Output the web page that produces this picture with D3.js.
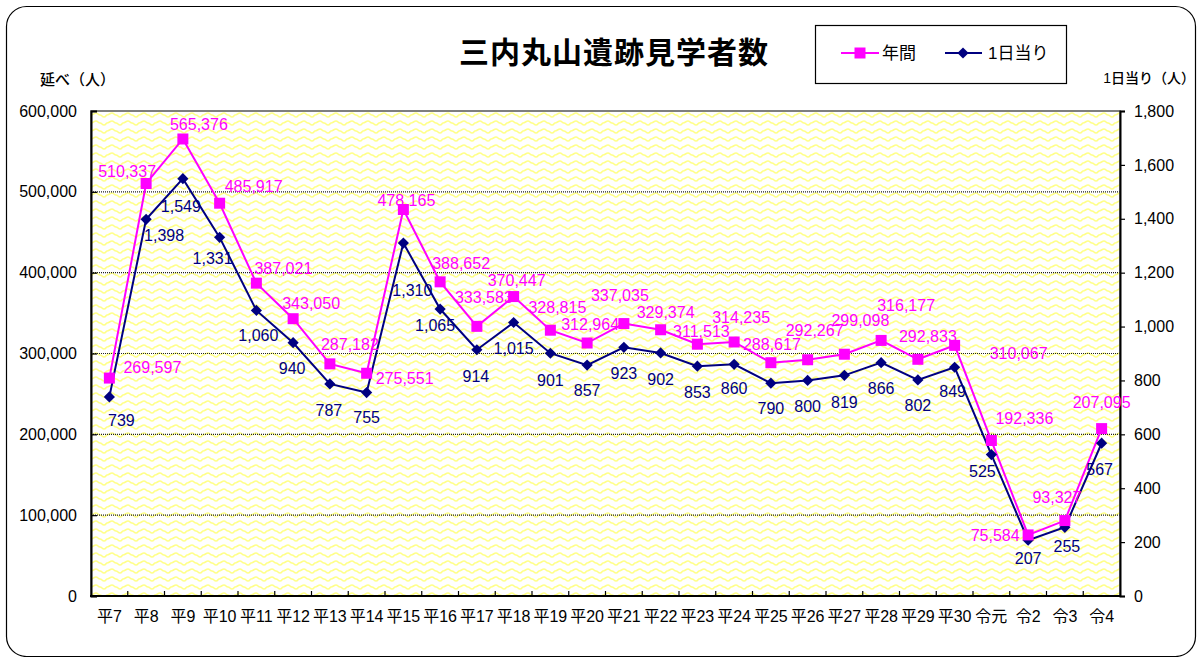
<!DOCTYPE html>
<html lang="ja">
<head>
<meta charset="utf-8">
<script src="https://cdn.jsdelivr.net/npm/d3@7"></script>
<style>
  html, body { margin: 0; padding: 0; background: #fff; }
  svg { display: block; }
  text { font-family: "Liberation Sans", "Noto Sans CJK JP", sans-serif; }
</style>
</head>
<body>
<svg id="chart" width="1199" height="657"></svg>
<script>
// Fiscal years (Heisei 7 – Reiwa 4)
const categories = ["平7","平8","平9","平10","平11","平12","平13","平14","平15","平16",
  "平17","平18","平19","平20","平21","平22","平23","平24","平25","平26",
  "平27","平28","平29","平30","令元","令2","令3","令4"];

// Annual visitors (left axis)
const annualVisitors = [269597, 510337, 565376, 485917, 387021, 343050, 287182, 275551,
  478165, 388652, 333583, 370447, 328815, 312964, 337035, 329374, 311513, 314235,
  288617, 292267, 299098, 316177, 292833, 310067, 192336, 75584, 93327, 207095];

// Visitors per day (right axis)
const dailyVisitors = [739, 1398, 1549, 1331, 1060, 940, 787, 755, 1310, 1065, 914, 1015,
  901, 857, 923, 902, 853, 860, 790, 800, 819, 866, 802, 849, 525, 207, 255, 567];

const leftTicks = [0, 100000, 200000, 300000, 400000, 500000, 600000];
const rightTicks = [0, 200, 400, 600, 800, 1000, 1200, 1400, 1600, 1800];

// Label placement relative to each marker, [dx, dy] in px
const annualLabelOffset = [[43,-11],[-19,-12],[16,-15],[34,-17],[27,-15],[18,-15],[20,-19],[38,5],
  [3,-9],[21,-18],[7,-29],[3,-16],[7,-23],[3,-19],[-4,-28],[5,-17],[4,-13],[7,-25],
  [1,-18],[7,-29],[16,-34],[25,-35],[10,-23],[64,8],[33,-22],[-33,0],[-8,-23],[0,-26]];
const dailyLabelOffset = [[12,24],[18,16],[-2,28],[-7,21],[2,25],[-1,26],[-1,26],[0,25],
  [9,47],[-5,16],[-1,27],[0,26],[0,27],[0,25],[0,26],[0,26],[0,26],[0,24],
  [0,25],[0,26],[0,27],[0,26],[0,25],[-2,24],[-9,17],[0,18],[2,19],[-2,26]];

const MAGENTA = "#ff00ff";
const NAVY = "#000080";

const svg = d3.select("#chart");
const plot = { left: 91, right: 1120, top: 111, bottom: 596 };

// outer rounded frame
svg.append("rect")
  .attr("x", 6.5).attr("y", 6.5).attr("width", 1189).attr("height", 650)
  .attr("rx", 20).attr("ry", 20)
  .attr("fill", "#fff").attr("stroke", "#000").attr("stroke-width", 1.2);

// wavy yellow fill for the plot area
const defs = svg.append("defs");
const pat = defs.append("pattern")
  .attr("id", "wave").attr("patternUnits", "userSpaceOnUse")
  .attr("x", plot.left).attr("y", plot.top)
  .attr("width", 16).attr("height", 8);
pat.append("rect").attr("width", 16).attr("height", 8).attr("fill", "#fff");
pat.append("path")
  .attr("d", "M0,4 C2,4 3,2 5,2 C7,2 7,4 9,4 C11,4 11,6 13,6 C15,6 15,4 16,4")
  .attr("fill", "none").attr("stroke", "#ffff88").attr("stroke-width", 1.6);

const x = d3.scaleBand().domain(categories).range([plot.left, plot.right]).padding(0);
const yL = d3.scaleLinear().domain([0, 600000]).range([plot.bottom, plot.top]);
const yR = d3.scaleLinear().domain([0, 1800]).range([plot.bottom, plot.top]);
const cx = d => x(d) + x.bandwidth() / 2;

svg.append("rect")
  .attr("x", plot.left).attr("y", plot.top)
  .attr("width", plot.right - plot.left).attr("height", plot.bottom - plot.top)
  .attr("fill", "url(#wave)");

// dotted gridlines
svg.append("g").selectAll("line")
  .data(leftTicks.filter(t => t > 0 && t < 600000))
  .join("line")
  .attr("x1", plot.left).attr("x2", plot.right)
  .attr("y1", d => yL(d)).attr("y2", d => yL(d))
  .attr("stroke", "#222").attr("stroke-width", 1.2).attr("stroke-dasharray", "1,1");

// plot frame
svg.append("rect")
  .attr("x", plot.left).attr("y", plot.top)
  .attr("width", plot.right - plot.left).attr("height", plot.bottom - plot.top)
  .attr("fill", "none").attr("stroke", "#555").attr("stroke-width", 1.5);

// left axis
const axL = svg.append("g").attr("transform", `translate(${plot.left},0)`)
  .call(d3.axisLeft(yL).tickValues(leftTicks).tickFormat(d3.format(",")).tickSize(-6).tickPadding(14));
axL.select(".domain").attr("stroke", "#000").attr("stroke-width", 2);
axL.selectAll(".tick line").attr("stroke", "#000").attr("stroke-width", 1.2);
axL.selectAll(".tick text").attr("font-size", 16).attr("fill", "#000")
  .attr("font-family", "'Liberation Sans', sans-serif");

// right axis
const axR = svg.append("g").attr("transform", `translate(${plot.right},0)`)
  .call(d3.axisRight(yR).tickValues(rightTicks).tickFormat(d3.format(",")).tickSize(5).tickPadding(9));
axR.select(".domain").attr("stroke", "#000").attr("stroke-width", 2);
axR.selectAll(".tick line").attr("stroke", "#000").attr("stroke-width", 1.2);
axR.selectAll(".tick text").attr("font-size", 16).attr("fill", "#000")
  .attr("font-family", "'Liberation Sans', sans-serif");

// bottom axis: ticks at category boundaries, pointing inward
svg.append("line")
  .attr("x1", plot.left - 1).attr("x2", plot.right + 1)
  .attr("y1", plot.bottom).attr("y2", plot.bottom)
  .attr("stroke", "#000").attr("stroke-width", 2);
svg.append("g").selectAll("line")
  .data(categories.slice(1))
  .join("line")
  .attr("x1", d => x(d)).attr("x2", d => x(d))
  .attr("y1", plot.bottom).attr("y2", plot.bottom - 5)
  .attr("stroke", "#000").attr("stroke-width", 1.2);
svg.append("g").selectAll("text")
  .data(categories)
  .join("text")
  .attr("x", d => cx(d)).attr("y", 616).attr("dy", "0.35em")
  .attr("text-anchor", "middle").attr("font-size", 16).attr("fill", "#000")
  .text(d => d);

// series lines
const annualPts = categories.map((c, i) => [cx(c), yL(annualVisitors[i])]);
const dailyPts = categories.map((c, i) => [cx(c), yR(dailyVisitors[i])]);
const line = d3.line();

svg.append("path").attr("d", line(annualPts))
  .attr("fill", "none").attr("stroke", MAGENTA).attr("stroke-width", 2);
svg.append("path").attr("d", line(dailyPts))
  .attr("fill", "none").attr("stroke", NAVY).attr("stroke-width", 2);

const square = d3.symbol().type(d3.symbolSquare).size(121);
const diamond = d3.symbol().type(d3.symbolDiamond2).size(80);

svg.append("g").selectAll("path")
  .data(dailyPts).join("path")
  .attr("transform", d => `translate(${d[0]},${d[1]})`)
  .attr("d", diamond).attr("fill", NAVY);
svg.append("g").selectAll("path")
  .data(annualPts).join("path")
  .attr("transform", d => `translate(${d[0]},${d[1]})`)
  .attr("d", square).attr("fill", MAGENTA);

// value labels
const fmt = d3.format(",");
svg.append("g").selectAll("text")
  .data(annualVisitors).join("text")
  .attr("x", (d, i) => annualPts[i][0] + annualLabelOffset[i][0])
  .attr("y", (d, i) => annualPts[i][1] + annualLabelOffset[i][1])
  .attr("dy", "0.35em").attr("text-anchor", "middle")
  .attr("font-size", 16).attr("fill", MAGENTA)
  .text(d => fmt(d));
svg.append("g").selectAll("text")
  .data(dailyVisitors).join("text")
  .attr("x", (d, i) => dailyPts[i][0] + dailyLabelOffset[i][0])
  .attr("y", (d, i) => dailyPts[i][1] + dailyLabelOffset[i][1])
  .attr("dy", "0.35em").attr("text-anchor", "middle")
  .attr("font-size", 16).attr("fill", NAVY)
  .text(d => fmt(d));

// title
svg.append("text")
  .attr("x", 614).attr("y", 52).attr("dy", "0.35em")
  .attr("text-anchor", "middle")
  .attr("font-family", "'Noto Sans CJK JP', sans-serif")
  .attr("font-size", 30).attr("font-weight", 700).attr("letter-spacing", 1)
  .attr("fill", "#000")
  .text("三内丸山遺跡見学者数");

// axis titles
svg.append("text")
  .attr("x", 40).attr("y", 80).attr("dy", "0.35em")
  .attr("font-family", "'Noto Sans CJK JP', sans-serif")
  .attr("font-size", 15).attr("font-weight", 500).attr("fill", "#000")
  .text("延べ（人）");
svg.append("text")
  .attr("x", 1195).attr("y", 78).attr("dy", "0.35em")
  .attr("text-anchor", "end")
  .attr("font-family", "'Noto Sans CJK JP', sans-serif")
  .attr("font-size", 14).attr("font-weight", 500).attr("fill", "#000")
  .text("1日当り（人）");

// legend
const lg = svg.append("g");
lg.append("rect")
  .attr("x", 815.5).attr("y", 25.5).attr("width", 251).attr("height", 58)
  .attr("fill", "#fff").attr("stroke", "#000").attr("stroke-width", 1.2);
lg.append("line").attr("x1", 841).attr("x2", 879).attr("y1", 53).attr("y2", 53)
  .attr("stroke", MAGENTA).attr("stroke-width", 2);
lg.append("path").attr("transform", "translate(860,53)").attr("d", square).attr("fill", MAGENTA);
lg.append("text").attr("x", 882).attr("y", 53).attr("dy", "0.35em")
  .attr("font-family", "'Noto Sans CJK JP', sans-serif")
  .attr("font-size", 17).attr("fill", "#000").text("年間");
lg.append("line").attr("x1", 945).attr("x2", 982).attr("y1", 53).attr("y2", 53)
  .attr("stroke", NAVY).attr("stroke-width", 2);
lg.append("path").attr("transform", "translate(963,53)").attr("d", diamond).attr("fill", NAVY);
lg.append("text").attr("x", 988).attr("y", 53).attr("dy", "0.35em")
  .attr("font-size", 17).attr("fill", "#000").text("1日当り");
</script>
</body>
</html>
